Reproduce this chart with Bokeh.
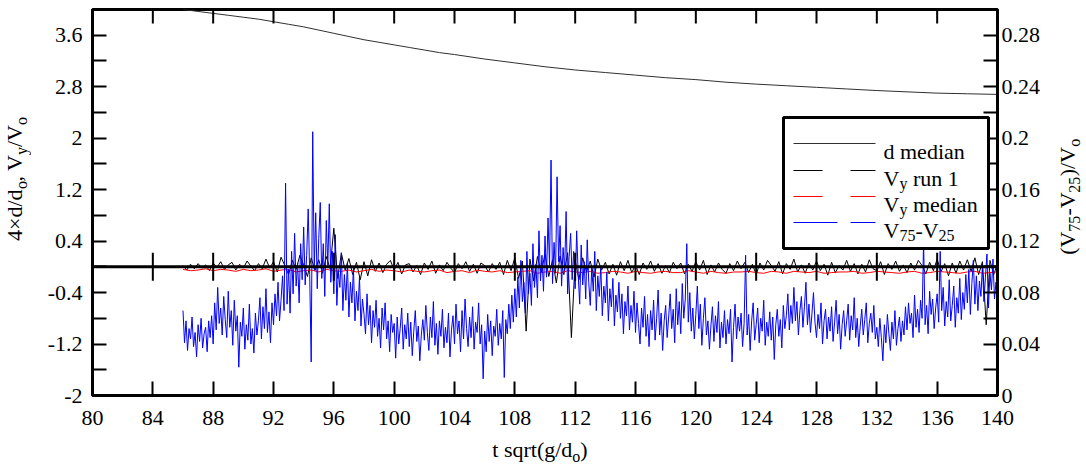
import numpy as np
from bokeh.plotting import figure
from bokeh.layouts import row, column
from bokeh.models import (Range1d, LinearAxis, FixedTicker, CustomJSTickFormatter,
                          Span, Label, BoxAnnotation, Div)
from bokeh.embed import file_html
from bokeh.resources import INLINE

# ---------------- data ----------------
x_ticks = [80, 84, 88, 92, 96, 100, 104, 108, 112, 116, 120, 124, 128, 132, 136, 140]
left_ticks = [-2, -1.2, -0.4, 0.4, 1.2, 2, 2.8, 3.6]
left_minor = [-1.6, -0.8, 0, 0.8, 1.6, 2.4, 3.2]
right_ticks = [0, 0.04, 0.08, 0.12, 0.16, 0.2, 0.24, 0.28]
right_minor = [0.02, 0.06, 0.1, 0.14, 0.18, 0.22, 0.26]

# d median (4*d/d0), left axis
d_x = [86, 87, 88, 89, 90, 91, 92, 93, 94, 95, 96, 97, 98, 99, 100, 101, 102, 103, 104,
       106, 108, 110, 112, 114, 116, 118, 120, 122, 124, 126, 128, 130, 132, 134, 136, 138, 140]
d_median = [4.00, 3.97, 3.94, 3.91, 3.88, 3.85, 3.81, 3.77, 3.73, 3.68, 3.63, 3.58, 3.53, 3.49,
            3.45, 3.41, 3.37, 3.33, 3.30, 3.23, 3.17, 3.11, 3.06, 3.02, 2.98, 2.94, 2.91, 2.87,
            2.84, 2.815, 2.79, 2.765, 2.74, 2.72, 2.70, 2.69, 2.68]

# V_y run 1, left axis, sampled every 0.25 from 86
vy_run1 = [
    0.02, -0.05, 0.04, -0.03,  0.05, -0.02, 0.03, -0.06,  0.06, -0.01, 0.08, -0.04,
    0.03, 0.07, -0.05, 0.04,  -0.02, 0.09, 0.01, -0.06,  0.05, -0.03, 0.12, -0.02,
    0.08, -0.08, 0.15, 0.02,  -0.12, 0.10, -0.04, 0.18,  0.03, -0.15, 0.14, -0.06,
    0.11, -0.10, 0.16, -0.03,  0.60, -0.18, 0.21, -0.05,  0.13, -0.12, 0.07, -0.20,
    0.08, -0.14, 0.11, -0.07,  0.06, -0.09, 0.04, 0.10,  -0.05, 0.07, -0.11, 0.03,
    0.05, -0.08, 0.02, -0.12,  0.06, -0.04, 0.09, -0.10,  0.03, -0.06, 0.07, -0.02,
    -0.09, 0.05, -0.03, 0.08,  -0.07, 0.04, -0.10, 0.06,  0.02, -0.08, 0.05, -0.04,
    0.07, -0.12, 0.10, -0.06,  0.14, -0.18, 0.09, -1.00,  0.12, -0.22, 0.16, -0.09,
    0.20, -0.15, 0.11, -0.25,  0.17, -0.12, 0.22, -1.10,  0.10, -0.20, 0.14, -0.08,
    0.09, -0.16, 0.12, -0.05,  0.07, -0.11, 0.04, -0.13,  0.08, -0.06, 0.10, -0.09,
    0.03, -0.12, 0.06, -0.04,  0.09, -0.07, 0.05, -0.10,  0.02, -0.09, 0.07, -0.03,
    0.06, -0.11, 0.04, -0.07,  0.08, -0.05, 0.10, -0.12,  0.03, -0.08, 0.06, -0.04,
    -0.10, 0.05, -0.06, 0.09,  -0.03, 0.07, -0.09, 0.04,  -0.12, 0.06, -0.05, 0.10,
    0.02, -0.07, 0.08, -0.11,  0.05, -0.04, 0.12, -0.08,  0.03, -0.10, 0.06, -0.05,
    0.09, -0.06, 0.04, -0.13,  0.07, -0.09, 0.02, -0.05,  0.10, -0.07, 0.05, -0.11,
    0.04, -0.08, 0.11, -0.03,  -0.06, 0.08, -0.12, 0.05,  -0.04, 0.09, -0.07, 0.03,
    -0.09, 0.06, -0.05, 0.10,  0.02, -0.11, 0.07, -0.06,  0.12, -0.08, 0.05, -0.14,
    0.06, -0.10, 0.09, -0.05,  0.11, -0.07, 0.14, -0.12,  0.08, -0.90, 0.10, -0.12,
    0.05]

# V_y median, left axis, sampled every 0.5 from 86
vy_median = [
    -0.04, -0.06, -0.05, -0.03, -0.06, -0.04, -0.05, -0.07, -0.04, -0.06, -0.05, -0.03,
    -0.07, -0.05, -0.04, -0.08, -0.06, -0.05, -0.08, -0.04, -0.06, -0.07, -0.05, -0.08,
    -0.06, -0.04, -0.07, -0.05, -0.06, -0.08, -0.05, -0.07, -0.08, -0.06, -0.05, -0.09,
    -0.07, -0.06, -0.09, -0.05, -0.07, -0.08, -0.06, -0.09, -0.08, -0.07, -0.06, -0.10,
    -0.08, -0.07, -0.10, -0.06, -0.08, -0.09, -0.07, -0.10, -0.09, -0.07, -0.08, -0.10,
    -0.07, -0.09, -0.10, -0.08, -0.07, -0.09, -0.09, -0.06, -0.08, -0.10, -0.07, -0.09,
    -0.10, -0.08, -0.08, -0.07, -0.09, -0.10, -0.07, -0.08, -0.10, -0.07, -0.08, -0.09,
    -0.07, -0.10, -0.09, -0.08, -0.08, -0.07, -0.10, -0.09, -0.07, -0.08, -0.09, -0.10,
    -0.08, -0.07, -0.10, -0.09, -0.07, -0.08, -0.09, -0.10, -0.08, -0.07, -0.10, -0.09,
    -0.08]

# V75 - V25, right axis, sampled every 0.1 from 86
v75_25 = [
    0.066, 0.041, 0.058, 0.035, 0.052, 0.044, 0.061, 0.038, 0.049, 0.030,
    0.055, 0.042, 0.060, 0.037, 0.048, 0.053, 0.034, 0.058, 0.045, 0.062,
    0.040, 0.072, 0.051, 0.084, 0.056, 0.068, 0.047, 0.077, 0.059, 0.045,
    0.081, 0.053, 0.066, 0.039, 0.074, 0.050, 0.062, 0.022, 0.057, 0.046,
    0.068, 0.036, 0.055, 0.043, 0.071, 0.040, 0.052, 0.033, 0.064, 0.047,
    0.058, 0.076, 0.044, 0.069, 0.052, 0.083, 0.049, 0.065, 0.041, 0.072,
    0.055, 0.079, 0.062, 0.088, 0.058, 0.074, 0.093, 0.066, 0.165, 0.071,
    0.098, 0.064, 0.112, 0.079, 0.126, 0.085, 0.103, 0.072, 0.118, 0.090,
    0.131, 0.086, 0.109, 0.145, 0.094, 0.026, 0.205, 0.098, 0.142, 0.083,
    0.122, 0.150, 0.091, 0.118, 0.077, 0.136, 0.101, 0.149, 0.088, 0.112,
    0.079, 0.125, 0.070, 0.097, 0.084, 0.111, 0.066, 0.094, 0.074, 0.103,
    0.061, 0.088, 0.072, 0.099, 0.058, 0.081, 0.066, 0.092, 0.054, 0.075,
    0.063, 0.048, 0.079, 0.055, 0.070, 0.041, 0.066, 0.053, 0.074, 0.046,
    0.060, 0.037, 0.068, 0.051, 0.072, 0.044, 0.058, 0.034, 0.063, 0.049,
    0.056, 0.029, 0.061, 0.040, 0.052, 0.068, 0.036, 0.055, 0.044, 0.064,
    0.038, 0.057, 0.031, 0.050, 0.066, 0.042, 0.054, 0.027, 0.047, 0.059,
    0.043, 0.070, 0.049, 0.035, 0.061, 0.045, 0.073, 0.039, 0.056, 0.032,
    0.058, 0.046, 0.067, 0.037, 0.053, 0.041, 0.064, 0.030, 0.051, 0.062,
    0.040, 0.071, 0.048, 0.058, 0.034, 0.066, 0.044, 0.075, 0.052, 0.038,
    0.061, 0.045, 0.069, 0.036, 0.057, 0.049, 0.072, 0.040, 0.055, 0.013,
    0.050, 0.034, 0.063, 0.042, 0.058, 0.031, 0.054, 0.046, 0.067, 0.039,
    0.056, 0.044, 0.066, 0.014, 0.059, 0.048, 0.071, 0.052, 0.078, 0.057,
    0.083, 0.061, 0.092, 0.068, 0.105, 0.073, 0.088, 0.064, 0.112, 0.079,
    0.095, 0.070, 0.118, 0.084, 0.102, 0.076, 0.128, 0.089, 0.109, 0.081,
    0.124, 0.092, 0.138, 0.101, 0.183, 0.087, 0.119, 0.095, 0.170, 0.104,
    0.132, 0.085, 0.115, 0.097, 0.143, 0.079, 0.108, 0.126, 0.090, 0.112,
    0.083, 0.128, 0.094, 0.071, 0.117, 0.086, 0.104, 0.075, 0.121, 0.088,
    0.070, 0.099, 0.081, 0.112, 0.066, 0.093, 0.077, 0.101, 0.062, 0.085,
    0.072, 0.096, 0.058, 0.083, 0.069, 0.091, 0.054, 0.078, 0.065, 0.088,
    0.060, 0.079, 0.048, 0.073, 0.062, 0.085, 0.051, 0.070, 0.057, 0.081,
    0.049, 0.072, 0.056, 0.040, 0.068, 0.053, 0.077, 0.046, 0.063, 0.038,
    0.066, 0.051, 0.074, 0.043, 0.060, 0.082, 0.047, 0.064, 0.035, 0.058,
    0.070, 0.045, 0.061, 0.079, 0.052, 0.067, 0.041, 0.083, 0.055, 0.073,
    0.048, 0.087, 0.060, 0.075, 0.118, 0.057, 0.080, 0.050, 0.068, 0.044,
    0.063, 0.085, 0.052, 0.071, 0.039, 0.060, 0.076, 0.047, 0.058, 0.036,
    0.054, 0.069, 0.042, 0.062, 0.049, 0.073, 0.037, 0.057, 0.045, 0.066,
    0.040, 0.059, 0.048, 0.067, 0.026, 0.053, 0.071, 0.044, 0.061, 0.050,
    0.064, 0.038, 0.056, 0.109, 0.047, 0.063, 0.035, 0.058, 0.072, 0.043,
    0.055, 0.068, 0.041, 0.060, 0.050, 0.074, 0.039, 0.057, 0.046, 0.065,
    0.043, 0.061, 0.028, 0.055, 0.067, 0.046, 0.059, 0.037, 0.070, 0.052,
    0.062, 0.079, 0.051, 0.070, 0.056, 0.084, 0.058, 0.073, 0.047, 0.066,
    0.077, 0.053, 0.069, 0.088, 0.055, 0.071, 0.049, 0.064, 0.080, 0.057,
    0.045, 0.063, 0.052, 0.072, 0.040, 0.058, 0.067, 0.044, 0.061, 0.050,
    0.069, 0.042, 0.057, 0.074, 0.048, 0.063, 0.036, 0.055, 0.066, 0.046,
    0.058, 0.071, 0.043, 0.062, 0.051, 0.076, 0.045, 0.060, 0.038, 0.054,
    0.067, 0.047, 0.059, 0.072, 0.041, 0.056, 0.064, 0.049, 0.070, 0.044,
    0.053, 0.038, 0.060, 0.045, 0.027, 0.055, 0.041, 0.063, 0.048, 0.035,
    0.057, 0.044, 0.066, 0.039, 0.052, 0.061, 0.042, 0.058, 0.047, 0.069,
    0.051, 0.072, 0.056, 0.064, 0.045, 0.078, 0.053, 0.067, 0.049, 0.074,
    0.060, 0.120, 0.055, 0.070, 0.048, 0.081, 0.063, 0.075, 0.052, 0.068,
    0.079, 0.057, 0.112, 0.066, 0.084, 0.054, 0.073, 0.061, 0.090, 0.058,
    0.070, 0.085, 0.053, 0.076, 0.064, 0.091, 0.059, 0.080, 0.067, 0.094,
    0.072, 0.098, 0.063, 0.087, 0.105, 0.071, 0.093, 0.066, 0.089, 0.077,
    0.101, 0.073, 0.092, 0.110, 0.068, 0.095, 0.082, 0.106, 0.075, 0.088,
    0.064]

run1_x = np.round(86 + 0.25 * np.arange(len(vy_run1)), 3)
med_x = np.round(86 + 0.5 * np.arange(len(vy_median)), 3)
iqr_x = np.round(86 + 0.1 * np.arange(len(v75_25)), 3)

# ---------------- layout geometry (canvas pixels) ----------------
FONT = "Liberation Serif"
TOTAL_W, TOTAL_H = 1086, 466
LW, RW, BH = 34, 36, 26                 # title strips: left, right, bottom
PW, PH = TOTAL_W - LW - RW, TOTAL_H - BH  # figure size
FL, FR, FT, FB = 92, 997, 9, 395        # frame edges in page pixels
X0, X1, Y0, Y1 = 80, 140, -2, 4

p = figure(width=PW, height=PH, x_range=Range1d(X0, X1), y_range=Range1d(Y0, Y1),
           output_backend="svg", toolbar_location=None,
           min_border_left=FL - LW, min_border_right=(LW + PW) - FR,
           min_border_top=FT, min_border_bottom=PH - FB)
p.extra_y_ranges = {"r": Range1d(0, 0.3)}
p.outline_line_color = "black"
p.outline_line_width = 3
p.xgrid.visible = False
p.ygrid.visible = False
p.background_fill_color = "white"
p.border_fill_color = "white"

fmt = CustomJSTickFormatter(code="return String(+tick.toFixed(2));")


def style_axis(ax, ticks, minor, standoff):
    ax.ticker = FixedTicker(ticks=ticks, minor_ticks=minor)
    ax.formatter = fmt
    ax.axis_line_width = 3
    ax.axis_line_color = "black"
    ax.major_tick_in = 14
    ax.major_tick_out = 0
    ax.major_tick_line_width = 2
    ax.minor_tick_in = 14
    ax.minor_tick_out = 0
    ax.minor_tick_line_width = 2
    ax.major_label_text_font = FONT
    ax.major_label_text_color = "black"
    ax.major_label_text_font_size = "22px"
    ax.major_label_standoff = standoff


style_axis(p.xaxis[0], x_ticks, [], 15)
style_axis(p.yaxis[0], left_ticks, left_minor, 10)
right_ax = LinearAxis(y_range_name="r")
style_axis(right_ax, right_ticks, right_minor, 4)
p.add_layout(right_ax, "right")

# ---------------- series ----------------
p.line(d_x, d_median, line_color="#303030", line_width=1)
p.line(run1_x, vy_run1, line_color="black", line_width=1)
p.line(med_x, vy_median, line_color="red", line_width=1)
p.line(iqr_x, v75_25, line_color="blue", line_width=1, y_range_name="r")

# zero axis with ticks, and top-edge ticks
TICK = 14 * (Y1 - Y0) / (FB - FT)
zt = [t for t in x_ticks if X0 < t < X1]
p.add_layout(Span(location=0, dimension="width", line_color="black", line_width=3))
p.segment(x0=zt, x1=zt, y0=[-TICK] * len(zt), y1=[TICK] * len(zt),
          line_color="black", line_width=2)
p.segment(x0=zt, x1=zt, y0=[Y1 - TICK] * len(zt), y1=[Y1] * len(zt),
          line_color="black", line_width=2)


# ---------------- legend (inside the frame) ----------------
def X(px):
    return X0 + (px - FL) * (X1 - X0) / (FR - FL)


def Y(py):
    return Y0 + (FB - py) * (Y1 - Y0) / (FB - FT)


W = {" ": 250, "(": 333, ")": 333, "/": 278, "-": 333, ",": 250, ".": 250,
     "a": 444, "d": 500, "e": 444, "i": 278, "m": 778, "n": 500, "r": 333,
     "u": 500, "y": 500, "V": 722}


def tw(s, size):
    return sum(W.get(c, 500) for c in s) * size / 1000.0


def rich(pieces, sx, sy, size=22, sub_size=16, sub_off=5):
    pos = 0.0
    for txt, sub in pieces:
        fs = sub_size if sub else size
        stripped = txt.lstrip(" ")
        pos += tw(txt[:len(txt) - len(stripped)], fs)
        p.add_layout(Label(x=X(sx + pos), y=Y(sy + (sub_off if sub else 0)), text=stripped,
                           text_font=FONT, text_font_size=f"{fs}px",
                           text_color="black", text_align="left",
                           text_baseline="alphabetic"))
        pos += tw(stripped, fs)


p.add_layout(BoxAnnotation(left=X(783), right=X(988), top=Y(117), bottom=Y(248),
                           fill_color="white", fill_alpha=1, line_color="black",
                           line_alpha=1, line_width=3))
leg_rows = [
    (143, "#303030", [(793, 875)], [("d median", False)]),
    (170, "black", [(793, 822), (850, 875)], [("V", False), ("y", True), (" run 1", False)]),
    (196, "red", [(793, 822), (850, 875)], [("V", False), ("y", True), (" median", False)]),
    (222, "blue", [(793, 837), (850, 875)], [("V", False), ("75", True), ("-V", False), ("25", True)]),
]
for ly, col, segs, pieces in leg_rows:
    for a, b in segs:
        p.add_layout(BoxAnnotation(left=X(a), right=X(b), top=Y(ly - 0.5), bottom=Y(ly + 0.5),
                                   fill_color=col, fill_alpha=1, line_alpha=0))
    rich(pieces, 883, ly + 8)

# ---------------- axis titles (HTML, with real subscripts) ----------------
TXT = f"font-family:'{FONT}';font-size:22px;line-height:20px;color:black;white-space:nowrap;"
VSUB = '<span style="font-size:16px;position:relative;left:-5px;">{}</span>'
HSUB = '<span style="font-size:16px;position:relative;top:5px;">{}</span>'


def vtitle(html, width, height, cx, cy):
    inner = (f'<div style="position:relative;width:{width}px;height:{height}px;">'
             f'<div style="position:absolute;left:{cx - 15}px;top:{cy - 110}px;width:30px;'
             f'height:220px;display:flex;align-items:center;justify-content:center;">'
             f'<span style="{TXT}writing-mode:vertical-rl;text-orientation:sideways;'
             f'transform:rotate(180deg);">{html}</span>'
             f'</div></div>')
    return Div(text=inner, width=width, height=height, margin=0)


left_title = vtitle("4&times;d/d" + VSUB.format("o") + ", V" + VSUB.format("y") + "/V" + VSUB.format("o"),
                    LW, PH, 16, 179)
right_title = vtitle("(V" + VSUB.format("75") + "-V" + VSUB.format("25") + ")/V" + VSUB.format("o"),
                     RW, PH, 1069 - (LW + PW), 197)
bottom_title = Div(
    text=(f'<div style="position:relative;width:{TOTAL_W}px;height:{BH}px;">'
          f'<div style="position:absolute;left:440px;top:0px;width:200px;height:20px;'
          f'display:flex;justify-content:center;">'
          f'<span style="{TXT}">t sqrt(g/d' + HSUB.format("o") + ')</span></div></div>'),
    width=TOTAL_W, height=BH, margin=0)

layout = column(row(left_title, p, right_title, spacing=0), bottom_title, spacing=0)

open("out.html", "w").write(file_html(layout, INLINE))
